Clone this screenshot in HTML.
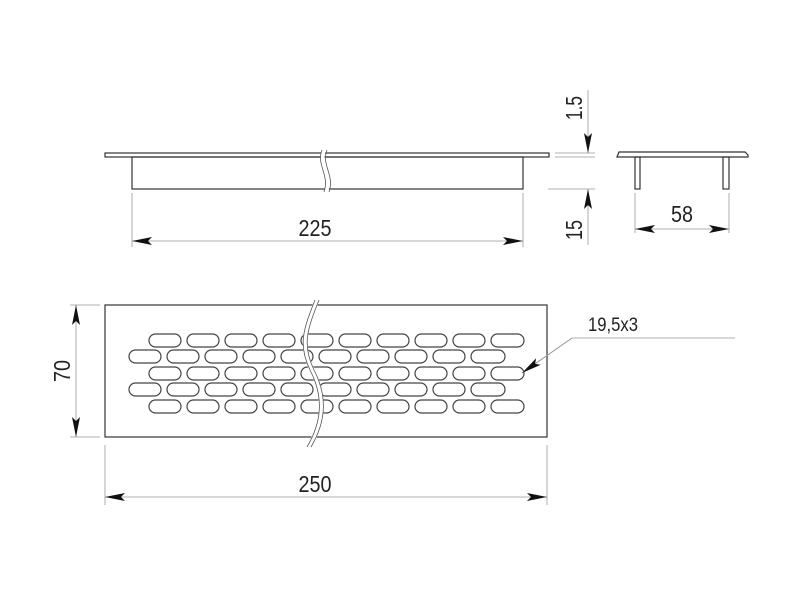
<!DOCTYPE html><html><head><style>body{margin:0;background:#fff}svg{display:block}text{font-family:"Liberation Sans",sans-serif;fill:#222}</style></head><body>
<svg width="800" height="600" viewBox="0 0 800 600" xmlns="http://www.w3.org/2000/svg">
<defs><marker id="a" viewBox="0 0 20 8" refX="20" refY="4" markerWidth="20" markerHeight="8" orient="auto-start-reverse" markerUnits="userSpaceOnUse"><path d="M0,0 L20,4 L0,8 L4,4z" fill="#111"/></marker></defs>
<g fill="none" stroke="#333" stroke-width="1.2">
<rect x="105" y="153" width="444" height="4"/>
<rect x="132" y="157" width="391" height="32"/>
<path d="M617,157 L619,152 L745,152 L748,155 L748,157 Z"/>
<rect x="635" y="157" width="5" height="32"/><rect x="723" y="157" width="6" height="32"/>
<rect x="105" y="305" width="442" height="132"/>
</g>
<g fill="#fff" stroke="#fff" stroke-width="4"><path d="M324,150 C318,165 332,175 326,192"/></g>
<g fill="none" stroke="#555" stroke-width="0.8"><path d="M322,150 C316,165 330,175 324,192 M327,150 C321,165 335,175 329,192"/></g>
<g fill="none" stroke="#444" stroke-width="1.2" id="slots">
<g id="r1">
<rect x="149" y="334" width="32" height="13" rx="6.5"/><rect x="187" y="334" width="32" height="13" rx="6.5"/><rect x="225" y="334" width="32" height="13" rx="6.5"/><rect x="263" y="334" width="32" height="13" rx="6.5"/><rect x="301" y="334" width="32" height="13" rx="6.5"/><rect x="339" y="334" width="32" height="13" rx="6.5"/><rect x="377" y="334" width="32" height="13" rx="6.5"/><rect x="415" y="334" width="32" height="13" rx="6.5"/><rect x="453" y="334" width="32" height="13" rx="6.5"/><rect x="491" y="334" width="33" height="13" rx="6.5"/>
</g>
<use href="#r1" y="33"/><use href="#r1" y="66"/>
<g id="r2"><rect x="129" y="350" width="32" height="13" rx="6.5"/><rect x="167" y="350" width="32" height="13" rx="6.5"/><rect x="205" y="350" width="32" height="13" rx="6.5"/><rect x="243" y="350" width="32" height="13" rx="6.5"/><rect x="281" y="350" width="32" height="13" rx="6.5"/><rect x="319" y="350" width="32" height="13" rx="6.5"/><rect x="357" y="350" width="32" height="13" rx="6.5"/><rect x="395" y="350" width="32" height="13" rx="6.5"/><rect x="433" y="350" width="32" height="13" rx="6.5"/><rect x="471" y="350" width="34" height="13" rx="6.5"/></g>
<use href="#r2" y="33"/>
</g>
<path d="M317,300 C305,330 300,345 312,370 C325,395 325,420 309,447" fill="none" stroke="#fff" stroke-width="5"/>
<path d="M315,300 C303,330 298,345 310,370 C323,395 323,420 307,447 M319,300 C307,330 302,345 314,370 C327,395 327,420 311,447" fill="none" stroke="#555" stroke-width="0.8"/>
<g stroke="#999" stroke-width="0.8" fill="none">
<path d="M132,193 V247 M523,193 V247"/>
<path d="M105,445 V505 M547,445 V505"/>
<path d="M70,305 H100 M70,437 H100"/>
<path d="M555,153 H595 M555,157 H595 M548,189 H595"/>
<path d="M635,193 V233 M729,193 V233"/>
<path d="M522,373 L572,338 H735"/>
</g>
<g stroke="#999" stroke-width="0.8" marker-end="url(#a)" marker-start="url(#a)">
<line x1="132" y1="241" x2="523" y2="241"/>
<line x1="105" y1="497" x2="547" y2="497"/>
<line x1="76" y1="305" x2="76" y2="437"/>
<line x1="635" y1="229" x2="729" y2="229"/>
</g>
<g stroke="#999" stroke-width="0.8">
<line x1="588" y1="90" x2="588" y2="153" marker-end="url(#a)"/>
<line x1="588" y1="245" x2="588" y2="189" marker-end="url(#a)"/>
<line x1="572" y1="338" x2="522" y2="373" marker-end="url(#a)"/>
</g>
<g font-size="23">
<text x="315" y="236" text-anchor="middle" textLength="33" lengthAdjust="spacingAndGlyphs">225</text>
<text x="315" y="492" text-anchor="middle" textLength="33" lengthAdjust="spacingAndGlyphs">250</text>
<text x="682" y="222" text-anchor="middle" textLength="22" lengthAdjust="spacingAndGlyphs">58</text>
<text x="613" y="331" textLength="50" lengthAdjust="spacingAndGlyphs" font-size="19" text-anchor="middle">19,5x3</text>
<text transform="translate(70,371) rotate(-90)" text-anchor="middle" textLength="22" lengthAdjust="spacingAndGlyphs">70</text>
<text transform="translate(582,108) rotate(-90)" text-anchor="middle" textLength="24" lengthAdjust="spacingAndGlyphs">1.5</text>
<text transform="translate(582,230) rotate(-90)" text-anchor="middle" textLength="20" lengthAdjust="spacingAndGlyphs">15</text>
</g>
</svg></body></html>
